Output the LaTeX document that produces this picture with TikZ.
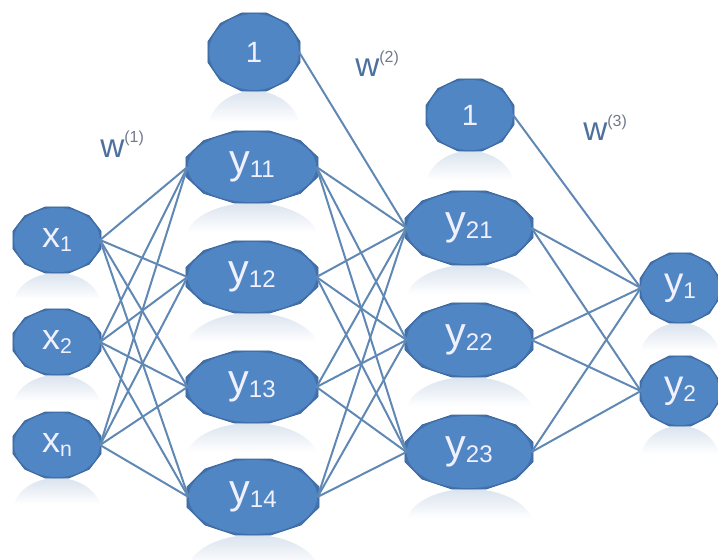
\documentclass[tikz,border=0pt]{standalone}
\usepackage{fontspec}
\setmainfont{Liberation Sans}
\usetikzlibrary{shapes.geometric}
\definecolor{nodeblue}{RGB}{80,134,196}
\definecolor{octblue}{RGB}{66,114,174}
\definecolor{edgeblue}{RGB}{96,136,180}
\definecolor{wblue}{RGB}{78,112,158}
\definecolor{supgray}{RGB}{112,122,140}
\definecolor{reflgray}{RGB}{218,227,238}
\tikzset{
  netnd/.style={ellipse, fill=nodeblue, inner sep=0pt, text=white!94!blue},
  conn/.style={draw=edgeblue, line width=1.5pt},
  wlab/.style={anchor=base west, inner sep=0pt, text=wblue}
}
\newcommand{\refl}[4]{%
  \begin{scope}
    \clip (#1,#2) ellipse [x radius={#3*0.75pt}, y radius={#4*0.75pt}];
    \shade[top color=reflgray, bottom color=white] ({#1-#3},{#2-#4}) rectangle ({#1+#3},{#2-0.2*#4});
  \end{scope}}
% name, x, y, a, b, text
\newcommand{\netnode}[6]{%
  \begin{scope}[shift={(#2,#3)}]
    \filldraw[fill=octblue, draw=octblue!90!black, line width=0.6pt] (15:{#4*0.7765pt} and {#5*0.7765pt})
      \foreach \t in {45,75,...,345} { -- (\t:{#4*0.7765pt} and {#5*0.7765pt}) } -- cycle;
  \end{scope}
  \node[netnd, minimum width={#4*1.46pt}, minimum height={#5*1.46pt}] (#1) at (#2,#3) {#6};}
\newcommand{\xlab}[1]{{\fontsize{27}{27}\selectfont x}{\fontsize{16}{16}\selectfont\raisebox{-3pt}{#1}}}
\newcommand{\ylab}[1]{{\fontsize{31}{31}\selectfont y}{\fontsize{18}{18}\selectfont\raisebox{-3pt}{#1}}}
\newcommand{\yolab}[1]{{\fontsize{29}{29}\selectfont y}{\fontsize{17}{17}\selectfont\raisebox{-3pt}{#1}}}
\newcommand{\wlabel}[1]{{\fontsize{25}{25}\selectfont w}\raisebox{11pt}{\fontsize{12}{12}\selectfont\color{supgray}(#1)}}
\begin{document}
\begin{tikzpicture}[x=0.75pt,y=-0.75pt]
\useasboundingbox (0,0) rectangle (718,560);
% reflections
\refl{57}{306}{44}{33}
\refl{57}{408}{44}{33}
\refl{57}{511}{44}{33}
\refl{254}{130}{46}{39}
\refl{252}{239}{66}{36}
\refl{252}{349}{66}{36}
\refl{252}{459}{66}{36}
\refl{253}{573}{66}{38}
\refl{470}{187}{44}{36}
\refl{469}{302}{64}{37}
\refl{469}{414}{64}{37}
\refl{469}{526}{64}{37}
\refl{680}{358}{40}{35}
\refl{680}{461}{40}{35}
% nodes
\netnode{x1}{57}{240}{44}{33}{\xlab{1}}
\netnode{x2}{57}{342}{44}{33}{\xlab{2}}
\netnode{xn}{57}{445}{44}{33}{\xlab{n}}
\netnode{b1}{254}{52}{46}{39}{\fontsize{22}{22}\selectfont 1}
\netnode{y11}{252}{167}{66}{36}{\ylab{11}}
\netnode{y12}{252}{277}{66}{36}{\ylab{12}}
\netnode{y13}{252}{387}{66}{36}{\ylab{13}}
\netnode{y14}{253}{497}{66}{38}{\ylab{14}}
\netnode{b2}{470}{115}{44}{36}{\fontsize{22}{22}\selectfont 1}
\netnode{y21}{469}{228}{64}{37}{\ylab{21}}
\netnode{y22}{469}{340}{64}{37}{\ylab{22}}
\netnode{y23}{469}{452}{64}{37}{\ylab{23}}
\netnode{y1}{680}{288}{40}{35}{\yolab{1}}
\netnode{y2}{680}{391}{40}{35}{\yolab{2}}
% connectors
\foreach \s in {x1,x2,xn} \foreach \t in {y11,y12,y13,y14} \draw[conn] (\s.east) -- (\t.west);
\foreach \s in {y11,y12,y13,y14} \foreach \t in {y21,y22,y23} \draw[conn] (\s.east) -- (\t.west);
\foreach \s in {y21,y22,y23} \foreach \t in {y1,y2} \draw[conn] (\s.east) -- (\t.west);
\draw[conn] (b1.east) -- (y21.west);
\draw[conn] (b2.east) -- (y1.west);
% labels
\node[wlab] (w1) at (100,157) {\wlabel{1}};
\node[wlab] (w2) at (355,77) {\wlabel{2}};
\node[wlab] (w3) at (583,141) {\wlabel{3}};
\end{tikzpicture}
\end{document}
